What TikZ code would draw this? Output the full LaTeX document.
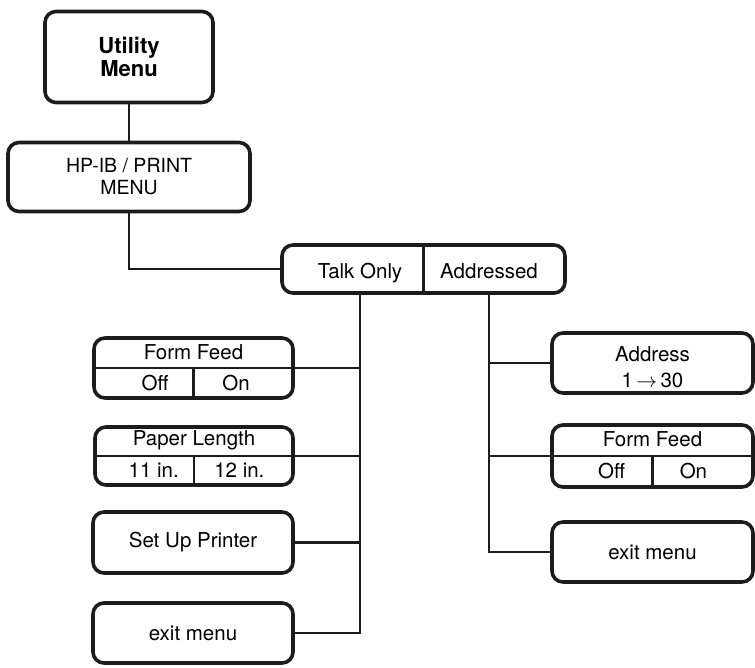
\documentclass[tikz,border=0pt]{standalone}
\usepackage{fontspec}
\setmainfont{TeX Gyre Heros}
\usetikzlibrary{calc}
\definecolor{inkgray}{HTML}{1C1C1C}

\begin{document}
\begin{tikzpicture}[x=1pt, y=-1pt, font=\fontsize{20.5}{23}\selectfont,
  menubox/.style={draw=inkgray, line width=3.6pt, rounded corners=11pt, inner sep=0pt, align=center},
  wire/.style={draw=inkgray, line width=2.8pt},
  split/.style={draw=inkgray, line width=2.2pt}]
  \useasboundingbox (0,0) rectangle (755,667);
  \node[menubox, minimum width=168pt, minimum height=91pt, font=\fontsize{22}{23}\selectfont\bfseries] (util) at (129,57) {Utility\\Menu};
  \node[menubox, minimum width=242pt, minimum height=69pt, font=\fontsize{19.5}{22}\selectfont] (hpib) at (129,177) {HP-IB / PRINT\\MENU};
  \node[menubox, minimum width=283pt, minimum height=48pt] (mode) at (423.5,269) {};
  \node[anchor=base] (talk) at (360,278) {Talk Only};
  \node[anchor=base] (addr) at (489,278) {Addressed};
  \draw[split] (mode.north) -- (mode.south);

  \node[menubox, minimum width=199pt, minimum height=60pt] (ffl) at (193.5,368) {};
  \node (fflhead) at ($(ffl.center)!0.5!(ffl.north)$) {Form Feed};
  \node (ffloff) at ($(ffl.center)!0.38!(ffl.west) + (0,15)$) {Off};
  \node (fflon) at ($(ffl.center)!0.42!(ffl.east) + (0,15)$) {On};
  \draw[split] (ffl.west) -- (ffl.east) (ffl.center) -- (ffl.south);

  \node[menubox, minimum width=198pt, minimum height=58pt] (pll) at (194,456) {};
  \node (pllhead) at ($(pll.center)!0.5!(pll.north)$) {Paper Length};
  \node (pll11) at ($(pll.center)!0.4!(pll.west) + (0,14)$) {11 in.};
  \node (pll12) at ($(pll.center)!0.45!(pll.east) + (0,14)$) {12 in.};
  \draw[split] (pll.west) -- (pll.east) (pll.center) -- (pll.south);

  \node[menubox, minimum width=200pt, minimum height=61pt] (setup) at (193,542.5) {Set Up Printer};
  \node[menubox, minimum width=200pt, minimum height=60pt] (lexit) at (193,633) {exit menu};

  \node[menubox, minimum width=201pt, minimum height=60pt] (addrbox) at (652.5,363) {};
  \node[anchor=base, inner sep=0pt] (addrname) at (652.5,361) {Address};
  \node[anchor=base, inner sep=0pt] (addrrange) at (652.5,387) {1\,$\rightarrow$\,30};
  \node[menubox, minimum width=201pt, minimum height=62pt] (ffr) at (652.5,456) {};
  \node (ffrhead) at ($(ffr.center)!0.5!(ffr.north)$) {Form Feed};
  \node (ffroff) at ($(ffr.center)!0.4!(ffr.west) + (0,15)$) {Off};
  \node (ffron) at ($(ffr.center)!0.4!(ffr.east) + (0,15)$) {On};
  \draw[split] (ffr.west) -- (ffr.east) (ffr.center) -- (ffr.south);
  \node[menubox, minimum width=201pt, minimum height=60pt] (rexit) at (652.5,552) {exit menu};

  \draw[wire] (util.south) -- (hpib.north);
  \draw[wire] (hpib.south) |- (mode.west);
  \draw[wire] (talk |- mode.south) |- (lexit.east);
  \draw[wire] (ffl.east) -- (talk |- ffl.east);
  \draw[wire] (pll.east) -- (talk |- pll.east);
  \draw[wire] (setup.east) -- (talk |- setup.east);
  \draw[wire] (addr |- mode.south) |- (rexit.west);
  \draw[wire] (addrbox.west) -- (addr |- addrbox.west);
  \draw[wire] (ffr.west) -- (addr |- ffr.west);
\end{tikzpicture}
\end{document}
